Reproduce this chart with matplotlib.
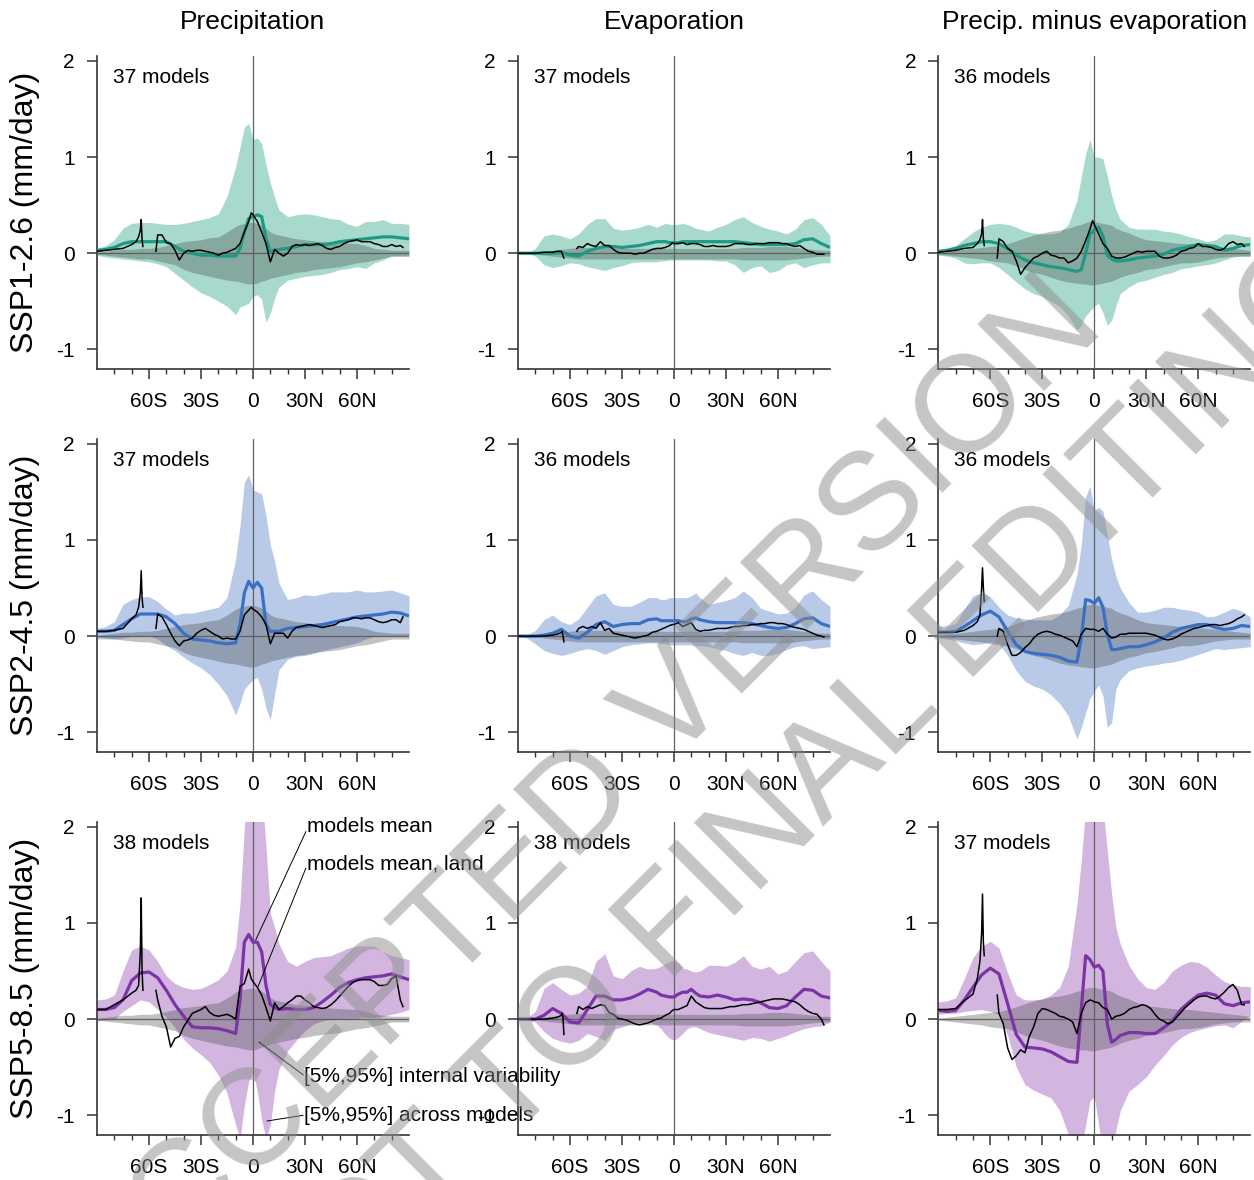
import numpy as np
import matplotlib
matplotlib.use("Agg")
import matplotlib.pyplot as plt

plt.rcParams['font.family'] = ['Liberation Sans', 'DejaVu Sans']
plt.rcParams['axes.unicode_minus'] = False

nan = np.nan

# ---------------- data ----------------
COL_TITLES = ["Precipitation", "Evaporation", "Precip. minus evaporation"]
ROW_LABELS = ["SSP1-2.6 (mm/day)", "SSP2-4.5 (mm/day)", "SSP5-8.5 (mm/day)"]
N_MODELS = [[37, 37, 36], [37, 36, 36], [38, 38, 37]]
X_TICKS = [-60, -30, 0, 30, 60]
X_TICKLABELS = ["60S", "30S", "0", "30N", "60N"]
X_MINOR = [-80, -70, -50, -40, -20, -10, 10, 20, 40, 50, 70, 80]
Y_TICKS = [-1, 0, 1, 2]
Y_TICKLABELS = ["-1", "0", "1", "2"]

LAT = [-90, -85, -80, -75, -70, -65, -60, -55, -50, -45, -40, -35, -30, -25, -20, -15, -10,
       -7.5, -5, -2.5, 0, 2.5, 5, 7.5, 10, 12.5, 15,
       20, 25, 30, 35, 40, 45, 50, 55, 60, 65, 70, 75, 80, 85, 90]

LAT_LAND = [-90, -85, -80, -75, -70, -67.5, -66, -65, -64.5, -64, -63.5, -60,
            -56, -55, -52.5, -50, -47.5, -45, -42.5, -40, -37.5, -35, -32.5, -30, -27.5, -25,
            -22.5, -20, -17.5, -15, -12.5, -10, -7.5, -5, -2.5, -1,
            0, 2.5, 5, 7.5, 10, 12.5, 15, 17.5, 20, 22.5, 25, 27.5, 30, 32.5, 35, 37.5, 40,
            42.5, 45, 47.5, 50, 52.5, 55, 57.5, 60, 62.5, 65, 67.5, 70, 72.5, 75, 77.5, 80,
            82.5, 85, 86.5]

# internal variability [5%,95%] per variable
IV_P_HI = [.01, .02, .03, .04, .04, .05, .05, .06, .08, .1, .12, .13, .14, .16, .17, .22, .28,
           .3, .31, .32, .32, .31, .29, .26, .22, .2, .19,
           .17, .15, .14, .13, .12, .115, .11, .105, .1, .08, .05, .04, .03, .03, .03]
IV_P_LO = [-.01, -.02, -.03, -.04, -.05, -.06, -.06, -.08, -.1, -.12, -.17, -.2, -.22, -.24, -.26, -.28, -.29,
           -.3, -.31, -.32, -.32, -.31, -.29, -.28, -.26, -.25, -.24,
           -.22, -.2, -.19, -.17, -.16, -.15, -.14, -.12, -.1, -.09, -.07, -.05, -.03, -.03, -.03]
IV_E_HI = [.0, .0, .01, .02, .03, .04, .05, .06, .06, .06, .06, .06, .05, .05, .05, .05, .05,
           .05, .05, .05, .05, .05, .05, .05, .05, .05, .05,
           .05, .05, .05, .05, .06, .06, .06, .07, .07, .07, .06, .05, .04, .03, .03]
IV_E_LO = [-.0, -.0, -.01, -.02, -.03, -.04, -.05, -.06, -.06, -.06, -.06, -.06, -.06, -.06, -.06, -.06, -.06,
           -.06, -.06, -.06, -.06, -.06, -.06, -.06, -.06, -.06, -.06,
           -.06, -.06, -.06, -.06, -.07, -.07, -.07, -.07, -.07, -.07, -.06, -.05, -.04, -.03, -.03]
IV_PE_HI = [.01, .02, .03, .04, .05, .06, .07, .08, .1, .13, .16, .19, .21, .23, .24, .26, .29,
            .3, .32, .33, .33, .32, .31, .3, .29, .26, .24,
            .21, .17, .14, .13, .12, .11, .1, .1, .09, .08, .07, .06, .05, .04, .03]
IV_PE_LO = [-.01, -.02, -.03, -.04, -.05, -.06, -.08, -.09, -.1, -.13, -.17, -.2, -.22, -.25, -.28, -.3, -.31,
            -.32, -.32, -.33, -.33, -.32, -.31, -.3, -.29, -.27, -.25,
            -.22, -.2, -.17, -.16, -.14, -.12, -.1, -.1, -.09, -.07, -.05, -.04, -.03, -.03, -.03]

# ---- SSP1-2.6 ----
PR1_HI = [.05, .08, .14, .26, .31, .32, .32, .31, .3, .3, .31, .33, .35, .37, .41, .59, .9,
          1.1, 1.31, 1.35, 1.18, 1.2, 1.14, .92, .73, .58, .45,
          .38, .4, .41, .4, .38, .36, .35, .3, .28, .33, .33, .35, .31, .31, .3]
PR1_LO = [-.02, -.04, -.05, -.06, -.07, -.08, -.09, -.11, -.14, -.21, -.28, -.35, -.41, -.45, -.5, -.55, -.64,
          -.56, -.54, -.52, -.45, -.43, -.48, -.72, -.62, -.47, -.35,
          -.28, -.26, -.24, -.23, -.22, -.2, -.17, -.16, -.14, -.16, -.1, -.07, -.03, -.03, -.03]
PR1_MEAN = [.03, .04, .06, .1, .12, .12, .12, .12, .12, .07, .02, .0, -.02, -.02, -.03, -.03, -.03,
            .05, .22, .36, .38, .4, .38, .15, .02, .03, .04,
            .05, .07, .09, .09, .09, .1, .12, .13, .14, .15, .16, .17, .17, .16, .15]
PR1_LAND = [.02, .03, .04, .05, .09, .12, .17, .24, .35, .14, .07, nan,
            .02, .19, .19, .11, .1, .03, -.07, .0, .03, .02, .03, .03, .02, .01,
            .0, -.02, .0, .01, .03, .05, .1, .22, .33, .42,
            .4, .33, .22, .1, -.09, .04, .0, -.03, .0, .07, .09, .08, .09, .08, .09, .1, .08,
            .05, .04, .06, .07, .1, .12, .13, .14, .12, .12, .12, .1, .09, .07, .07, .09,
            .07, .08, .06]

EV1_HI = [.0, .0, .05, .18, .2, .18, .15, .2, .3, .36, .36, .26, .24, .25, .27, .3, .27,
          .29, .31, .3, .3, .3, .31, .3, .28, .26, .25,
          .23, .27, .3, .35, .38, .32, .28, .25, .23, .2, .25, .35, .37, .3, .18]
EV1_LO = [.0, .0, -.03, -.12, -.15, -.13, -.1, -.11, -.14, -.16, -.18, -.15, -.13, -.1, -.09, -.09, -.09,
          -.08, -.08, -.07, -.07, -.07, -.07, -.07, -.07, -.07, -.07,
          -.07, -.08, -.08, -.12, -.2, -.15, -.13, -.2, -.18, -.12, -.1, -.15, -.12, -.1, -.1]
EV1_MEAN = [.0, .0, .0, .0, .0, .01, -.02, -.03, .02, .05, .07, .07, .06, .07, .08, .1, .12,
            .12, .12, .11, .11, .11, .12, .12, .12, .12, .12,
            .12, .12, .12, .12, .11, .1, .09, .09, .09, .09, .1, .14, .15, .1, .06]
EV1_LAND = [.0, .0, .0, .01, .01, .02, .02, .02, .0, -.03, -.05, nan,
            .05, .07, .06, .1, .08, .07, .12, .08, .08, .04, .01, .0, .0, .0,
            -.01, .0, .0, .02, .04, .05, .05, .06, .08, .11,
            .1, .1, .11, .09, .1, .1, .09, .07, .07, .08, .07, .07, .07, .08, .1, .1, .1,
            .09, .09, .1, .1, .1, .11, .11, .11, .1, .1, .08, .07, .08, .05, .02, .01,
            -.01, -.01, -.01]

PE1_HI = [.03, .05, .08, .15, .22, .27, .3, .31, .3, .27, .23, .21, .2, .2, .22, .3, .55,
          .8, 1.03, 1.18, 1.0, 1.0, .98, .8, .6, .45, .35,
          .27, .25, .25, .25, .23, .22, .2, .17, .15, .12, .14, .2, .2, .18, .17]
PE1_LO = [-.02, -.03, -.05, -.1, -.11, -.1, -.1, -.15, -.22, -.3, -.37, -.42, -.45, -.5, -.55, -.65, -.8,
          -.75, -.65, -.6, -.55, -.52, -.62, -.75, -.7, -.55, -.42,
          -.35, -.3, -.28, -.25, -.22, -.2, -.16, -.15, -.13, -.12, -.1, -.07, -.04, -.03, -.03]
PE1_MEAN = [.02, .03, .05, .08, .1, .12, .12, .1, .05, -.02, -.07, -.1, -.12, -.14, -.15, -.17, -.19,
            -.17, .0, .2, .24, .27, .18, -.02, -.06, -.08, -.08,
            -.07, -.05, -.04, -.03, -.01, .03, .05, .07, .09, .08, .07, .03, .05, .08, .09]
PE1_LAND = [.01, .02, .03, .05, .06, .1, .14, .2, .35, .15, .08, nan,
            -.05, .15, .12, .05, .02, -.08, -.22, -.15, -.1, -.05, -.03, .0, .02, -.02,
            -.03, -.05, -.05, -.1, -.08, -.05, .02, .13, .25, .34,
            .3, .2, .1, .05, -.03, -.05, -.05, -.04, -.02, .0, .02, .01, .02, .02, .02, -.03, -.05,
            -.05, -.04, -.02, .02, .03, .05, .06, .1, .07, .07, .06, .04, .03, .05, .1, .12,
            .09, .1, .07]

# ---- SSP2-4.5 ----
PR2_HI = [.08, .1, .15, .33, .38, .41, .41, .36, .28, .22, .24, .24, .26, .28, .3, .4, .8,
          1.15, 1.6, 1.68, 1.52, 1.5, 1.48, 1.25, .95, .78, .55,
          .38, .4, .43, .42, .44, .46, .46, .46, .48, .46, .46, .47, .48, .45, .42]
PR2_LO = [-.03, -.03, -.03, -.02, .0, .0, .0, -.03, -.1, -.15, -.22, -.28, -.33, -.4, -.5, -.62, -.82,
          -.7, -.55, -.5, -.45, -.43, -.55, -.75, -.87, -.6, -.35,
          -.24, -.21, -.2, -.18, -.15, -.13, -.11, -.09, -.07, -.03, .0, .0, .0, .0, .0]
PR2_MEAN = [.05, .05, .06, .12, .18, .23, .23, .23, .2, .13, .03, -.03, -.04, -.05, -.07, -.08, -.07,
            .12, .45, .57, .5, .56, .5, .12, .05, .05, .05,
            .08, .09, .1, .11, .12, .14, .16, .18, .2, .21, .22, .23, .25, .24, .21]
PR2_LAND = [.05, .05, .06, .08, .18, .22, .3, .45, .68, .4, .3, nan,
            .08, .23, .2, .12, .03, -.05, -.1, -.05, -.04, -.02, .03, .06, .08, .05,
            .02, .0, -.03, -.02, -.03, -.03, .05, .22, .27, .3,
            .28, .25, .2, .12, -.08, .03, .03, .03, -.02, .05, .09, .1, .11, .12, .11, .1, .09,
            .1, .11, .12, .15, .16, .17, .19, .19, .18, .19, .19, .17, .15, .14, .15, .17,
            .17, .14, .2]

EV2_HI = [.0, .01, .06, .17, .22, .15, .12, .18, .3, .42, .45, .33, .31, .31, .35, .4, .4,
          .38, .38, .4, .4, .4, .4, .4, .42, .45, .4,
          .33, .35, .37, .4, .47, .4, .29, .26, .23, .24, .3, .43, .47, .38, .31]
EV2_LO = [.0, -.02, -.08, -.15, -.18, -.2, -.18, -.15, -.13, -.15, -.19, -.15, -.11, -.09, -.08, -.07, -.07,
          -.08, -.08, -.09, -.09, -.09, -.09, -.09, -.09, -.1, -.1,
          -.11, -.13, -.15, -.18, -.2, -.17, -.2, -.2, -.18, -.14, -.11, -.1, -.13, -.12, -.11]
EV2_MEAN = [.0, .0, .0, .01, .03, .07, .0, -.02, .04, .12, .15, .1, .12, .13, .13, .17, .18,
            .16, .16, .16, .16, .16, .15, .15, .18, .19, .17,
            .15, .14, .14, .14, .14, .13, .11, .09, .08, .09, .13, .18, .19, .13, .1]
EV2_LAND = [.0, .0, .0, .0, .01, .02, .03, .04, .05, .0, -.06, nan,
            .05, .08, .1, .08, .1, .08, .14, .06, .08, .03, .02, .01, .0, -.01,
            -.02, -.01, .0, .01, .04, .05, .07, .09, .11, .12,
            .12, .14, .1, .12, .14, .07, .05, .06, .06, .07, .08, .08, .08, .09, .1, .1, .11,
            .11, .12, .12, .13, .13, .14, .14, .13, .13, .12, .1, .09, .08, .07, .05, .03,
            .01, .0, -.01]

PE2_HI = [.1, .11, .13, .28, .42, .45, .41, .3, .22, .19, .18, .17, .17, .17, .22, .32, .64,
          .95, 1.45, 1.56, 1.3, 1.34, 1.3, 1.05, .8, .62, .5,
          .35, .25, .25, .27, .3, .3, .28, .27, .25, .2, .21, .25, .29, .26, .2]
PE2_LO = [-.02, -.03, -.05, -.07, -.09, -.08, -.06, -.08, -.2, -.36, -.47, -.52, -.55, -.61, -.7, -.83, -1.07,
          -.95, -.8, -.65, -.57, -.51, -.62, -.95, -.9, -.55, -.45,
          -.36, -.33, -.31, -.3, -.28, -.27, -.25, -.22, -.19, -.16, -.13, -.14, -.13, -.12, -.11]
PE2_MEAN = [.04, .04, .05, .1, .16, .22, .26, .2, .05, -.09, -.16, -.18, -.19, -.2, -.22, -.26, -.27,
            -.02, .38, .37, .34, .4, .3, .02, -.14, -.14, -.13,
            -.11, -.11, -.09, -.06, -.02, .04, .08, .1, .12, .12, .09, .07, .08, .11, .1]
PE2_LAND = [.04, .04, .04, .06, .11, .15, .22, .5, .71, .5, .36, nan,
            .0, .08, .05, -.09, -.2, -.2, -.17, -.12, -.08, -.02, .02, .04, .05, .04,
            .02, .01, -.01, -.03, -.05, -.11, .02, .08, .07, .07,
            .07, .05, .08, .02, -.02, -.01, .02, .02, .03, .03, .03, .03, .03, .02, .01, -.01, -.03,
            -.04, -.03, -.01, .02, .04, .06, .08, .09, .1, .11, .12, .12, .11, .12, .13, .15,
            .18, .2, .22]

# ---- SSP5-8.5 ----
PR3_HI = [.2, .21, .25, .5, .72, .76, .72, .6, .45, .37, .33, .31, .32, .36, .41, .5, .75,
          1.2, 2.0, 2.6, 2.6, 2.5, 2.4, 1.8, 1.1, .95, .78,
          .6, .55, .6, .64, .65, .66, .7, .74, .76, .76, .76, .7, .66, .64, .62]
PR3_LO = [-.02, -.01, .0, .08, .14, .2, .18, .1, .02, -.09, -.21, -.3, -.37, -.45, -.58, -.77, -1.1,
          -1.25, -.9, -.65, -.55, -.75, -1.05, -1.25, -1.1, -.75, -.52,
          -.33, -.22, -.12, -.05, -.02, .0, .0, .01, .01, .02, .02, .03, .05, .07, .1]
PR3_MEAN = [.1, .1, .12, .2, .4, .48, .49, .43, .3, .15, .03, -.08, -.09, -.09, -.1, -.12, -.15,
            .2, .8, .88, .8, .8, .7, .35, .15, .12, .1,
            .11, .1, .1, .12, .18, .25, .33, .38, .41, .43, .44, .45, .47, .44, .41]
PR3_LAND = [.1, .1, .15, .2, .27, .3, .35, .7, 1.26, .5, .3, nan,
            .3, .2, .03, -.08, -.29, -.2, -.18, -.08, -.01, .06, .08, .1, .13, .07,
            .04, .03, .04, .05, .03, .0, .34, .37, .52, .42,
            .39, .33, .25, .12, -.02, .17, .1, .13, .17, .2, .24, .24, .2, .17, .13, .12, .11,
            .12, .15, .19, .24, .29, .34, .38, .4, .41, .41, .41, .39, .35, .35, .36, .42,
            .45, .2, .13]

EV3_HI = [.0, .01, .08, .32, .38, .31, .25, .27, .34, .6, .68, .45, .42, .5, .55, .52, .53,
          .55, .58, .6, .62, .58, .53, .52, .5, .49, .5,
          .56, .56, .55, .59, .66, .55, .52, .55, .47, .5, .6, .69, .71, .6, .5]
EV3_LO = [.0, -.01, -.03, -.13, -.2, -.23, -.25, -.22, -.15, -.18, -.22, -.11, -.08, -.05, -.04, -.03, -.06,
          -.1, -.16, -.2, -.22, -.19, -.15, -.1, -.08, -.08, -.1,
          -.14, -.16, -.18, -.2, -.22, -.19, -.2, -.23, -.2, -.17, -.13, -.1, -.08, -.07, -.03]
EV3_MEAN = [.0, .0, .0, .04, .11, .06, -.03, -.04, .1, .24, .24, .2, .2, .22, .26, .31, .28,
            .25, .24, .23, .23, .26, .28, .28, .31, .27, .24,
            .23, .25, .23, .2, .21, .2, .17, .12, .11, .14, .23, .31, .3, .24, .22]
EV3_LAND = [.0, .0, .0, .0, .01, .02, .03, .04, .06, .0, -.16, nan,
            .06, .13, .1, .13, .11, .13, .15, .14, .07, .05, .01, .0, -.01, -.03,
            -.05, -.06, -.05, -.04, -.02, .0, .01, .04, .06, .09,
            .1, .1, .12, .14, .24, .18, .15, .12, .11, .11, .11, .11, .12, .13, .13, .14, .15,
            .15, .16, .17, .18, .19, .2, .21, .21, .21, .2, .19, .18, .15, .11, .08, .06,
            .05, .0, -.06]

PE3_HI = [.18, .19, .22, .42, .64, .76, .81, .74, .48, .25, .2, .2, .21, .25, .33, .55, 1.2,
          1.65, 2.2, 2.5, 2.5, 2.4, 2.2, 1.75, 1.3, .95, .78,
          .56, .42, .33, .31, .38, .5, .56, .6, .59, .54, .46, .39, .36, .34, .34]
PE3_LO = [.05, .06, .06, .08, .09, .1, .08, .05, -.17, -.5, -.68, -.74, -.78, -.82, -.95, -1.2, -1.4,
          -1.35, -1.1, -.85, -.8, -1.1, -1.4, -1.5, -1.35, -1.15, -.95,
          -.75, -.68, -.6, -.48, -.38, -.27, -.19, -.14, -.11, -.09, -.07, -.06, -.09, -.02, .04]
PE3_MEAN = [.09, .08, .09, .2, .33, .46, .53, .47, .16, -.16, -.29, -.3, -.31, -.34, -.39, -.44, -.45,
            .1, .66, .62, .54, .56, .5, -.05, -.24, -.21, -.17,
            -.14, -.14, -.15, -.15, -.09, -.02, .1, .18, .25, .27, .25, .16, .14, .17, .18]
PE3_LAND = [.1, .1, .11, .19, .26, .42, .6, .9, 1.3, .8, .66, nan,
            .25, .06, -.05, -.3, -.42, -.38, -.32, -.35, -.18, -.08, .06, .11, .1, .08,
            .06, .03, .02, .0, -.03, -.15, .06, .17, .2, .19,
            .18, .17, .12, .1, .0, .03, .04, .06, .1, .12, .13, .15, .14, .11, .05, .0, -.02,
            -.05, -.03, .02, .07, .12, .16, .2, .23, .24, .24, .22, .21, .24, .28, .33, .36,
            .3, .15, .15]

# ---------------- assembling ----------------
IV = [(IV_P_LO, IV_P_HI), (IV_E_LO, IV_E_HI), (IV_PE_LO, IV_PE_HI)]
PANELS = [
    [(PR1_LO, PR1_HI, PR1_MEAN, PR1_LAND), (EV1_LO, EV1_HI, EV1_MEAN, EV1_LAND), (PE1_LO, PE1_HI, PE1_MEAN, PE1_LAND)],
    [(PR2_LO, PR2_HI, PR2_MEAN, PR2_LAND), (EV2_LO, EV2_HI, EV2_MEAN, EV2_LAND), (PE2_LO, PE2_HI, PE2_MEAN, PE2_LAND)],
    [(PR3_LO, PR3_HI, PR3_MEAN, PR3_LAND), (EV3_LO, EV3_HI, EV3_MEAN, EV3_LAND), (PE3_LO, PE3_HI, PE3_MEAN, PE3_LAND)],
]

LINE_COLORS = ['#1c9a85', '#3a70c3', '#7b33a6']
FILL_COLORS = ['#a7dacc', '#b8cae7', '#d3b6e0']

W, H = 1254.0, 1180.0
COL_LEFT_PX = [97, 518, 938.3]
ROW_BOTTOM_PX = [368.6, 751.5, 1134.5]
AX_W_PX, AX_H_PX = 312.0, 312.5

fig = plt.figure(figsize=(12.54, 11.8), dpi=100)

axes = [[None] * 3 for _ in range(3)]
for r in range(3):
    for c in range(3):
        ax = fig.add_axes([COL_LEFT_PX[c] / W, 1 - ROW_BOTTOM_PX[r] / H, AX_W_PX / W, AX_H_PX / H])
        ax.set_facecolor('none')
        axes[r][c] = ax
        lo, hi, mean, land = PANELS[r][c]
        ivlo, ivhi = IV[c]
        ax.fill_between(LAT, lo, hi, color=FILL_COLORS[r], lw=0, zorder=1)
        ax.fill_between(LAT, ivlo, ivhi, color='#404040', alpha=0.32, lw=0, zorder=2)
        ax.axhline(0, color='#606060', lw=0.9, zorder=3)
        ax.axvline(0, color='#606060', lw=0.9, zorder=3)
        ax.plot(LAT, mean, color=LINE_COLORS[r], lw=2.3, zorder=4, solid_capstyle='butt')
        ax.plot(LAT_LAND, land, color='black', lw=1.1, zorder=5)
        ax.set_xlim(-90, 90)
        ax.set_ylim(-1.2, 2.05)
        for s in ['top', 'right']:
            ax.spines[s].set_visible(False)
        for s in ['left', 'bottom']:
            ax.spines[s].set_color('#333333')
            ax.spines[s].set_linewidth(1.2)
        ax.set_xticks(X_TICKS)
        ax.set_xticklabels(X_TICKLABELS)
        ax.set_xticks(X_MINOR, minor=True)
        ax.set_yticks(Y_TICKS)
        ax.set_yticklabels(Y_TICKLABELS)
        ax.tick_params(axis='x', which='major', length=7, width=1.1, color='#333333',
                       labelsize=15, pad=10)
        ax.tick_params(axis='x', which='minor', length=3.5, width=1.0, color='#333333')
        ax.tick_params(axis='y', which='major', length=7, width=1.1, color='#333333',
                       labelsize=15, pad=9)
        ax.text(0.051, 0.932, f"{N_MODELS[r][c]} models", transform=ax.transAxes,
                ha='left', va='center', fontsize=15, zorder=6)

# column titles and row labels
for c in range(3):
    xc = (COL_LEFT_PX[c] + AX_W_PX / 2) / W
    fig.text(xc, 1 - 22 / H, COL_TITLES[c], ha='center', va='center', fontsize=19)
for r in range(3):
    yc = 1 - (ROW_BOTTOM_PX[r] - AX_H_PX / 2) / H
    fig.text(25 / W, yc, ROW_LABELS[r], rotation=90, ha='center', va='center', fontsize=23)

# legend-like annotations in SSP5-8.5 precipitation panel (drawn on top of everything)
ax = axes[2][0]
ANNOT = [
    ("models mean", (31, 2.0), (30.5, 1.95), (1.5, 0.82)),
    ("models mean, land", (31, 1.61), (30.5, 1.57), (2.5, 0.32)),
    ("[5%,95%] internal variability", (29.5, -0.6), (29, -0.58), (3.5, -0.24)),
    ("[5%,95%] across models", (29.5, -1.0), (29, -1.0), (8, -1.06)),
]
for label, tpos, start, end in ANNOT:
    fig.text(tpos[0], tpos[1], label, ha='left', va='center', fontsize=15, zorder=20,
             transform=ax.transData)
    ax.annotate('', xy=end, xytext=start, annotation_clip=False, zorder=7,
                arrowprops=dict(arrowstyle='-', lw=0.7, color='black', shrinkA=0, shrinkB=0))

# watermark
fig.text(585 / W, 1 - 800 / H, "ACCEPTED VERSION", rotation=45, rotation_mode='anchor',
         ha='center', va='center', fontsize=99, color='#8c8c8c', alpha=0.5, zorder=50)
fig.text(675 / W, 1 - 925 / H, "SUBJECT TO FINAL EDITING", rotation=45, rotation_mode='anchor',
         ha='center', va='center', fontsize=99, color='#8c8c8c', alpha=0.5, zorder=50)

fig.savefig("out.png", dpi=100)
